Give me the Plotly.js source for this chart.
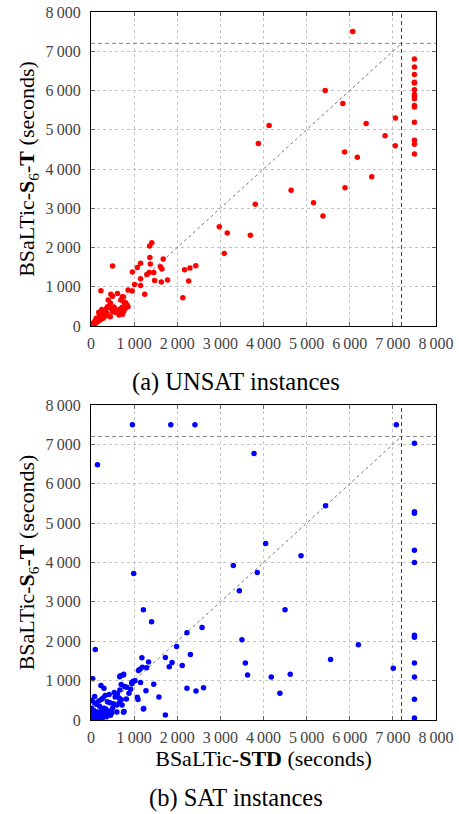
<!DOCTYPE html>
<html><head><meta charset="utf-8">
<script src="https://cdn.plot.ly/plotly-3.0.1.min.js"></script>
<style>body{margin:0;background:#fff}#chart{width:459px;height:814px}</style>
</head><body><div id="chart"></div>
<script>
const TIMEOUT = 7200;
const AXIS_MAX = 8000;
const tickVals = [0,1000,2000,3000,4000,5000,6000,7000,8000];
const tickText = ['0','1\u2009000','2\u2009000','3\u2009000','4\u2009000','5\u2009000','6\u2009000','7\u2009000','8\u2009000'];

// (a) UNSAT instances: BSaLTic-STD time (x) vs BSaLTic-S6-T time (y); 7500 = timeout
const unsatX = [6070,5430,5840,4130,3880,6380,7060,6820,7055,5880,6175,6510,5890,4640,5160,5380,3810,2975,3160,3695,3090,
  7500,7500,7500,7500,7500,7500,7500,7500,7500,7500,7500,7500,7500,7500,7500,
  2430,2295,2170,2265,2130,1775,1675,1610,1645,1630,1475,1455,1410,1360,1365,1375,1350,1295,1150,1150,1150,1075,1010,960,955,1245,860,500,230,
  615,462,500,754,692,769,838,723,762,731,831,669,585,538,454,400,415,362,323,285,231,185,131,77,31,386,502,263,301,139,193,371,448,750,858,796,726,804,10,50,100,160,220,280,340,200,120,60,700,650,560,480,250,180,90,30];
const unsatY = [7500,6000,5670,5110,4650,5160,5300,4850,4590,4430,4300,3800,3525,3460,3140,2800,3100,2530,2370,2310,1850,
  6800,6600,6410,6210,6190,6020,5900,5850,5790,5620,5580,5190,4730,4630,4380,
  1535,1475,1430,1145,720,1170,1705,1510,1450,1120,1160,1365,2120,2040,1745,1580,1360,1315,1600,1205,1030,1490,1060,1375,890,810,915,1530,900,
  830,810,757,740,664,596,536,477,391,298,502,426,409,477,579,664,511,451,391,323,255,213,153,94,51,491,364,322,229,153,280,322,237,364,491,449,746,593,10,30,60,110,160,200,260,330,200,80,350,280,350,430,420,350,120,20];

// (b) SAT instances
const satX = [960,1850,2410,7080,
  7500,7500,7500,7500,7500,7500,7500,7500,7500,7500,7500,
  150,3780,5440,4050,4870,3300,3855,990,3440,4500,1215,1405,2225,2575,3500,6200,1985,100,2305,1725,1180,1335,1880,5555,3580,2115,7010,1815,1100,1135,1190,1290,3630,4180,4620,40,665,750,980,1150,1455,945,2225,2435,2610,1275,4380,1575,1075,1090,820,1215,1725,230,300,85,75,775,830,670,610,720,755,
  380,650,560,440,520,600,660,300,250,200,150,350,100,50,20,400,450,120,60,500,880,920,950,1020,700,280,330,180,240,30,160,260,600,20,10,80,360,480,700,540,420,680,757,765,1221,
  5,15,25,40,60,70,90,110,130,150,170,190,210,230,250,270,300,320,340,360,45,85,125,180,220,260,310,15,35,55];
const satY = [7500,7500,7500,7500,
  7030,5290,5250,4310,4000,2150,2100,1450,1090,525,50,
  6480,6770,5440,4480,4170,3925,3745,3720,3280,2800,2800,2495,2215,2350,2040,1910,1865,1790,1665,1590,1580,1470,1460,1535,1450,1385,1315,1350,1255,1290,1340,1325,1145,1095,1160,1050,1100,1145,985,950,905,950,805,735,820,745,680,585,575,520,535,280,125,875,805,595,435,850,830,765,660,380,195,
  465,560,590,440,410,380,440,300,250,350,200,150,100,50,20,230,120,400,250,300,680,780,920,1000,900,560,620,480,520,120,60,120,200,500,300,30,80,180,520,700,650,1125,1160,218,294,
  5,30,10,60,20,90,40,70,110,50,140,90,170,130,210,160,240,180,280,220,150,200,30,60,100,40,90,200,250,130];

const FONT = '"Liberation Serif", "DejaVu Serif", serif';
const yTitle = 'BSaLTic-<b>S</b><sub>6</sub>-<b>T</b> (seconds)';

function refLines(xa, ya) {
  return [
    {x:[0,TIMEOUT], y:[0,TIMEOUT], xaxis:xa, yaxis:ya, mode:'lines', line:{color:'#777', width:1, dash:'3px,3px'}, hoverinfo:'skip', showlegend:false},
    {x:[0,AXIS_MAX], y:[TIMEOUT,TIMEOUT], xaxis:xa, yaxis:ya, mode:'lines', line:{color:'#888', width:1, dash:'4px,3px'}, hoverinfo:'skip', showlegend:false},
    {x:[TIMEOUT,TIMEOUT], y:[0,AXIS_MAX], xaxis:xa, yaxis:ya, mode:'lines', line:{color:'#444', width:1, dash:'4px,3px'}, hoverinfo:'skip', showlegend:false}
  ];
}

const traces = [
  ...refLines('x','y'),
  {x:unsatX, y:unsatY, xaxis:'x', yaxis:'y', mode:'markers', type:'scatter', marker:{color:'#ff0000', size:5.5}, showlegend:false},
  ...refLines('x2','y2'),
  {x:satX, y:satY, xaxis:'x2', yaxis:'y2', mode:'markers', type:'scatter', marker:{color:'#0000ff', size:5.5}, showlegend:false}
];

function axis(extra) {
  return Object.assign({
    range:[0,AXIS_MAX], tickvals:tickVals, ticktext:tickText,
    showgrid:true, gridcolor:'#c4c4c4', griddash:'dot', gridwidth:1,
    showline:true, linecolor:'#000', linewidth:1, mirror:'ticks',
    ticks:'inside', ticklen:4, tickcolor:'#666',
    zeroline:false, fixedrange:true, automargin:false,
    tickfont:{family:FONT, size:16, color:'#444'}
  }, extra);
}

const layout = {
  width:459, height:814,
  margin:{l:91, r:23, t:12, b:94},
  paper_bgcolor:'#fff', plot_bgcolor:'#fff',
  font:{family:FONT, color:'#000'},
  showlegend:false,
  xaxis: axis({domain:[0,1], anchor:'y', ticklabelstandoff:3}),
  yaxis: axis({domain:[0.5565,1], anchor:'x', ticklabelstandoff:6, title:{text:yTitle, font:{family:FONT, size:22, color:'#000'}, standoff:4}}),
  xaxis2: axis({domain:[0,1], anchor:'y2', ticklabelstandoff:3, title:{text:'BSaLTic-<b>STD</b> (seconds)', font:{family:FONT, size:22, color:'#000'}, standoff:5}}),
  yaxis2: axis({domain:[0,0.4449], anchor:'x2', ticklabelstandoff:6, title:{text:yTitle, font:{family:FONT, size:22, color:'#000'}, standoff:4}}),
  annotations:[
    {text:'(a) UNSAT instances', xref:'paper', yref:'paper', x:0.42, y:0.4774, xanchor:'center', yanchor:'middle', showarrow:false, font:{family:FONT, size:24.5, color:'#000'}},
    {text:'(b) SAT instances', xref:'paper', yref:'paper', x:0.42, y:-0.110, xanchor:'center', yanchor:'middle', showarrow:false, font:{family:FONT, size:24.5, color:'#000'}}
  ]
};

Plotly.newPlot('chart', traces, layout, {displayModeBar:false, staticPlot:true});
</script>
</body></html>
